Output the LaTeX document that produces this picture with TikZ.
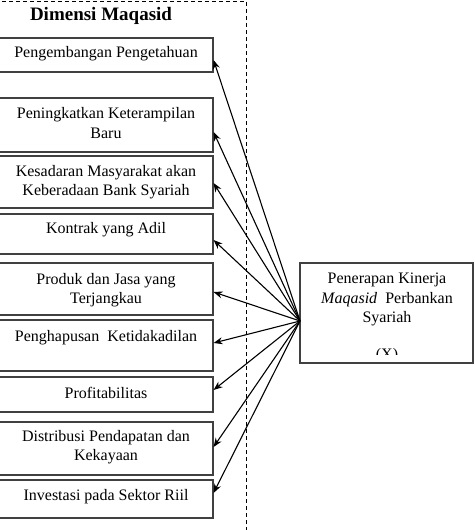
\documentclass[tikz,border=0pt]{standalone}
\usepackage{fontspec}
\setmainfont{Liberation Serif}
\usetikzlibrary{arrows.meta}
\begin{document}
\begin{tikzpicture}[x=1pt,y=-1pt,
  boxstyle/.style={draw=black!75,line width=1.1pt},
  txt/.style={align=center,font=\fontsize{16}{19.5}\selectfont,inner sep=0pt},
  arr/.style={line width=1.1pt,-{Stealth[length=9pt,width=7pt]}},
  sepline/.style={dashed,line width=1pt,dash pattern=on 4pt off 3pt}]
\useasboundingbox (0,0) rectangle (474,530);
\clip (0,0) rectangle (474,530);
% dashed frame
\draw[sepline] (-5,1) -- (246,1) -- (246,535);
% title
\node[font=\fontsize{19}{22}\selectfont\bfseries,inner sep=0pt] (title) at (101,16) {Dimensi Maqasid};
% boxes
\node[boxstyle,minimum width=214pt,minimum height=34pt,inner sep=0pt] (b1) at (106,55) {};
\node[boxstyle,minimum width=214pt,minimum height=54pt,inner sep=0pt] (b2) at (106,125) {};
\node[boxstyle,minimum width=214pt,minimum height=52pt,inner sep=0pt] (b3) at (106,182) {};
\node[boxstyle,minimum width=214pt,minimum height=40pt,inner sep=0pt] (b4) at (106,234) {};
\node[boxstyle,minimum width=214pt,minimum height=52pt,inner sep=0pt] (b5) at (106,289) {};
\node[boxstyle,minimum width=214pt,minimum height=51pt,inner sep=0pt] (b6) at (106,345.5) {};
\node[boxstyle,minimum width=214pt,minimum height=35pt,inner sep=0pt] (b7) at (106,394.5) {};
\node[boxstyle,minimum width=214pt,minimum height=53pt,inner sep=0pt] (b8) at (106,448.5) {};
\node[boxstyle,minimum width=214pt,minimum height=38pt,inner sep=0pt] (b9) at (106,499) {};
% texts
\node[txt] (t1) at (106,54) {Pengembangan Pengetahuan};
\node[txt] (t2) at (106,123) {Peningkatkan Keterampilan\\Baru};
\node[txt] (t3) at (106,182) {Kesadaran Masyarakat akan\\Keberadaan Bank Syariah};
\node[txt] (t4) at (106,230) {Kontrak yang Adil};
\node[txt] (t5) at (106,290) {Produk dan Jasa yang\\Terjangkau};
\node[txt] (t6) at (106,338) {Penghapusan\ \ Ketidakadilan};
\node[txt] (t7) at (106,393) {Profitabilitas};
\node[txt] (t8) at (106,447) {Distribusi Pendapatan dan\\Kekayaan};
\node[txt] (t9) at (106,497) {Investasi pada Sektor Riil};
% right box
\node[boxstyle,minimum width=173pt,minimum height=100pt,inner sep=0pt] (x) at (386.5,313) {};
\node[txt] (xt) at (387,299.5) {Penerapan Kinerja\\\textit{Maqasid}\ \ Perbankan\\Syariah};
\begin{scope}
\clip (300,263) rectangle (474,354);
\node[txt] (xl) at (387,356) {(X)};
\end{scope}
\coordinate (src) at (300,321);
% arrows
\draw[arr] (src) -- (b1.east |- 0,60);
\draw[arr] (src) -- (b2.east |- 0,132);
\draw[arr] (src) -- (b3.east |- 0,183);
\draw[arr] (src) -- (b4.east |- 0,240);
\draw[arr] (src) -- (b5.east |- 0,292);
\draw[arr] (src) -- (b6.east |- 0,343);
\draw[arr] (src) -- (b7.east |- 0,390);
\draw[arr] (src) -- (b8.east |- 0,447);
\draw[arr] (src) -- (b9.east |- 0,493);
\end{tikzpicture}
\end{document}
